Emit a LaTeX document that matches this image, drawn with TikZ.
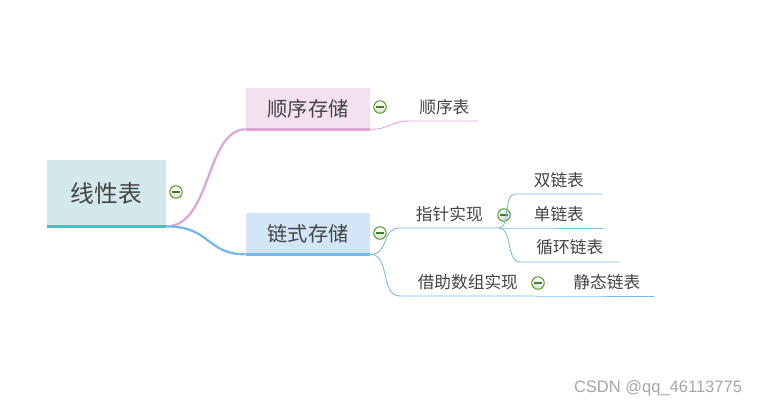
\documentclass[tikz,border=0pt]{standalone}
\usepackage{fontspec}
\setmainfont{Liberation Sans}
\newfontfamily\cjk{Noto Sans CJK SC}
\usetikzlibrary{positioning}
\definecolor{txtgray}{HTML}{444444}
\definecolor{rootfill}{HTML}{D2E8EB}
\definecolor{rootbarc}{HTML}{4EBDBF}
\definecolor{seqfill}{HTML}{F3E1EF}
\definecolor{seqc}{HTML}{DFA6D4}
\definecolor{chainfill}{HTML}{D3E6F8}
\definecolor{chainc}{HTML}{76B9EE}
\definecolor{foldc}{HTML}{5A9E2C}

\begin{document}
\begin{tikzpicture}[
    x=0.02cm, y=-0.02cm,
    topic/.style={rectangle, fill=#1, inner sep=0pt, minimum width=2.48cm, minimum height=0.82cm, text=txtgray, font=\cjk\fontsize{11.5}{13}\selectfont},
    leaf/.style={rectangle, anchor=south west, inner sep=0pt, minimum height=0.56cm, text=txtgray, font=\cjk\fontsize{9.5}{11}\selectfont},
    fold/.style={circle, draw=foldc, line width=0.6pt, top color=white, bottom color=gray!25, minimum size=0.25cm, inner sep=0pt,
        path picture={\draw[foldc!80!black, line width=0.6pt] (path picture bounding box.center) ++(-2.2pt,0) -- ++(4.4pt,0);}},
    bar/.style={line width=1.8pt, draw=#1},
    branch/.style={draw=#1, line width=1.3pt},
    subline/.style={draw=#1, line width=0.5pt},
    wmark/.style={text=gray!70, font=\fontsize{9.4}{11}\selectfont}
]
\useasboundingbox (0,0) rectangle (758,407);
% Nodes
\node[topic=rootfill, minimum width=2.38cm, minimum height=1.32cm, font=\cjk\fontsize{13.5}{15}\selectfont] (root) at (106.5,193) {线性表};
\node[topic=seqfill] (seq) at (308,108.5) {顺序存储};
\node[topic=chainfill] (chain) at (308,233.5) {链式存储};
\node[leaf, minimum width=1.36cm] (seqlist) at (410,121) {顺序表};
\node[leaf, minimum width=1.96cm] (ptr) at (400,228) {指针实现};
\node[leaf, minimum width=1.74cm] (dbl) at (515,194) {双链表};
\node[leaf, minimum width=1.74cm] (sgl) at (515,228) {单链表};
\node[leaf, minimum width=1.98cm] (circ) at (520,262) {循环链表};
\node[leaf, minimum width=2.7cm] (arr) at (400,296) {借助数组实现};
\node[leaf, minimum width=1.86cm] (stat) at (560,296) {静态链表};

% Fold icons
\node[fold] (rootfold) at (176,192) {};
\node[fold] (seqfold) at (380,107) {};
\node[fold] (chainfold) at (380,233) {};
\node[fold] (ptrfold) at (504,215) {};
\node[fold] (arrfold) at (538,283) {};

% Edges
\draw[branch=seqc] (root.south east) .. controls +(45,0) and +(-40,0) .. (seq.south west);
\draw[branch=chainc] (root.south east) .. controls +(45,0) and +(-40,0) .. (chain.south west);
\draw[bar=rootbarc] (root.south west) -- (root.south east);
\draw[bar=seqc] (seq.south west) -- (seq.south east);
\draw[bar=chainc] (chain.south west) -- (chain.south east);
\draw[subline=seqc] (seq.south east) .. controls +(20,0) and +(-20,0) .. (seqlist.south west) -- (seqlist.south east);
\draw[subline=chainc] (chain.south east) .. controls +(20,0) and +(-20,0) .. (ptr.south west) -- (ptr.south east);
\draw[subline=chainc] (chain.south east) .. controls +(20,0) and +(-20,0) .. (arr.south west) -- (arr.south east);
\draw[subline=chainc] (ptr.south east) .. controls +(12,0) and +(-12,0) .. (dbl.south west) -- (dbl.south east);
\draw[subline=chainc] (ptr.south east) -- (sgl.south west) -- (sgl.south east);
\draw[subline=chainc] (ptr.south east) .. controls +(14,0) and +(-14,0) .. (circ.south west) -- (circ.south east);
\draw[subline=chainc] (arr.south east) -- (stat.south west) -- (stat.south east);

% Watermark
\node[wmark] (csdn) at (658,388) {CSDN @qq\_46113775};
\end{tikzpicture}
\end{document}
